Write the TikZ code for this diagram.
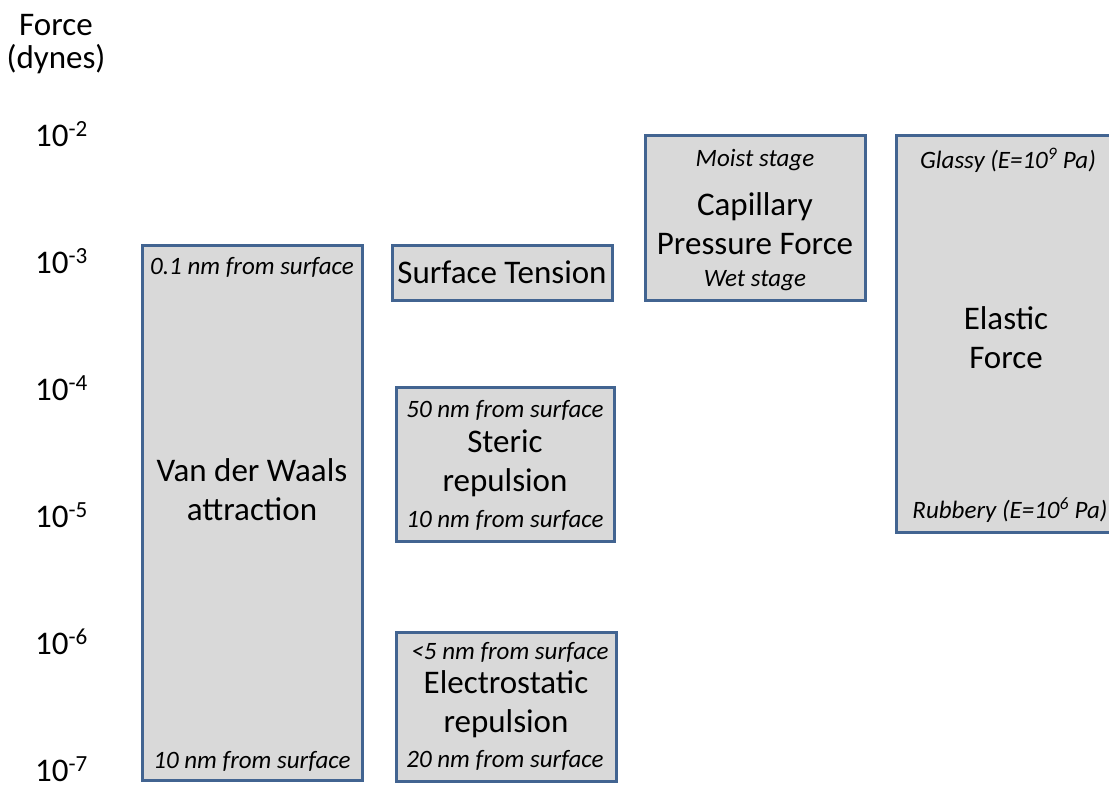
\documentclass[tikz,border=0pt]{standalone}
\usepackage{fontspec}
\setmainfont{Carlito}
\definecolor{boxfill}{RGB}{217,217,217}
\definecolor{boxline}{RGB}{66,100,145}
\tikzset{
  forcebox/.style={draw=boxline,fill=boxfill,line width=3pt},
  axislabel/.style={anchor=base west,font=\fontsize{33}{38}\selectfont},
  maintext/.style={align=center,font=\fontsize{33}{39}\selectfont,inner sep=0pt},
  notetext/.style={font=\fontsize{25}{29}\selectfont\itshape,inner sep=0pt}
}
\begin{document}
\begin{tikzpicture}[x=1pt,y=-1pt]
\useasboundingbox (0,0) rectangle (1109,788);
\node[align=center,font=\fontsize{33}{33}\selectfont,inner sep=0pt] (unit) at (56,44) {Force\\(dynes)};
\foreach \e [count=\i from 0] in {2,...,7}
  \node[axislabel,inner sep=0pt] (tick\e) at (35,{146+127*\i}) {10\textsuperscript{-\e}};
\draw[forcebox] (142,245) rectangle (362,780);
\draw[forcebox] (392,245) rectangle (612,300);
\draw[forcebox] (396,387) rectangle (614,541);
\draw[forcebox] (396,632) rectangle (616,781);
\draw[forcebox] (645,135) rectangle (865,300);
\draw[forcebox] (896,135) rectangle (1116,532);
\node[notetext] (vdwtop) at (252,267) {0.1 nm from surface};
\node[maintext] (vdw) at (252,490) {Van der Waals\\attraction};
\node[notetext] (vdwbot) at (252,761) {10 nm from surface};
\node[maintext] (tension) at (502,272) {Surface Tension};
\node[notetext] (sterictop) at (505,410) {50 nm from surface};
\node[maintext] (steric) at (505,463) {Steric\\repulsion};
\node[notetext] (stericbot) at (505,520) {10 nm from surface};
\node[notetext] (electop) at (510,652) {<5 nm from surface};
\node[maintext] (elec) at (506,704) {Electrostatic\\repulsion};
\node[notetext] (elecbot) at (505,760) {20 nm from surface};
\node[notetext] (moist) at (755,160) {Moist stage};
\node[maintext] (capillary) at (755,224) {Capillary\\Pressure Force};
\node[notetext] (wet) at (755,281) {Wet stage};
\node[notetext] (glassy) at (1008,160) {Glassy (E=10\textsuperscript{9} Pa)};
\node[maintext] (elastic) at (1006,338) {Elastic\\Force};
\node[notetext] (rubbery) at (1010,510) {Rubbery (E=10\textsuperscript{6} Pa)};
\end{tikzpicture}
\end{document}
